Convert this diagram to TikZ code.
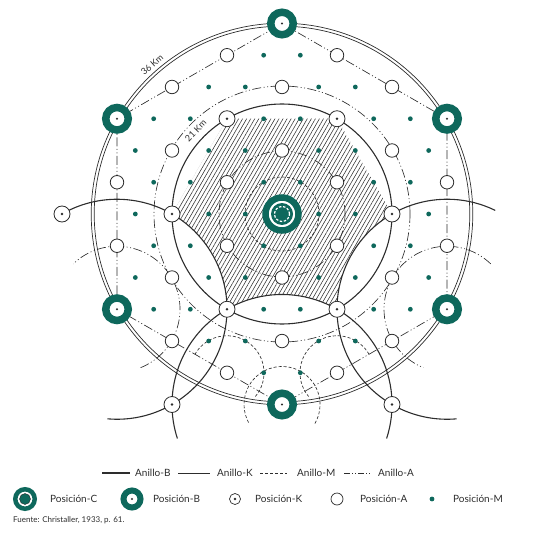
\documentclass[tikz,border=0pt]{standalone}
\usepackage{fontspec}
\setmainfont{Lato}
\usetikzlibrary{patterns.meta}
\definecolor{ink}{RGB}{45,45,45}
\definecolor{pine}{RGB}{14,104,92}

\begin{document}
\begin{tikzpicture}[x=1pt,y=1pt,
 every node/.style={font=\small},
 posM/.style={circle,fill=pine,inner sep=0pt,minimum size=4.8pt},
 posA/.style={circle,draw=ink,fill=white,line width=0.8pt,inner sep=0pt,minimum size=13.5pt},
 posK/.style={circle,draw=ink,fill=white,line width=0.8pt,inner sep=0pt,minimum size=16pt,
   path picture={\fill[ink] (path picture bounding box.center) circle (1.3pt);}},
 posB/.style={circle,draw=pine,fill=white,line width=7.5pt,inner sep=0pt,minimum size=22.5pt,
   path picture={\fill[ink] (path picture bounding box.center) circle (1.2pt);}},
 posC/.style={circle,draw=pine,fill=white,line width=6.5pt,inner sep=0pt,minimum size=33pt,
   path picture={\fill[pine] (path picture bounding box.center) circle (11pt);
     \draw[white,line width=1.2pt,dash pattern=on 2.5pt off 1.6pt] (path picture bounding box.center) circle (7.5pt);}},
 legC/.style={circle,draw=pine,fill=white,line width=4.5pt,inner sep=0pt,minimum size=19.5pt,
   path picture={\filldraw[fill=pine,draw=ink,line width=0.4pt] (path picture bounding box.center) circle (5.5pt);}},
 ringB/.style={ink,line width=1.1pt},
 ringK/.style={ink,line width=0.7pt},
 ringM/.style={ink,line width=0.65pt,dash pattern=on 3pt off 2pt},
 ringA/.style={ink,line width=0.65pt,dash pattern=on 9pt off 2.5pt on 1pt off 2.5pt on 1pt off 2.5pt},
 legtxt/.style={anchor=west,inner sep=2pt,text=ink,font=\fontsize{10}{12}\selectfont},
 kmtxt/.style={text=ink,inner sep=1pt,font=\fontsize{9}{10}\selectfont}]
\useasboundingbox (0,0) rectangle (556,539);

\coordinate (C) at (282,325);
\coordinate (Bt) at (282,515.5);  \coordinate (Bur) at (447,420.25);
\coordinate (Blr) at (447,229.75); \coordinate (Bb) at (282,134.5);
\coordinate (Bll) at (117,229.75); \coordinate (Bul) at (117,420.25);
\coordinate (K0) at (392,325);    \coordinate (K60) at (337,420.25);
\coordinate (K120) at (227,420.25); \coordinate (K180) at (172,325);
\coordinate (K240) at (227,229.75); \coordinate (K300) at (337,229.75);
\coordinate (Kw) at (62,325); \coordinate (Ksw) at (172,134.5); \coordinate (Kse) at (392,134.5);
\coordinate (Asw) at (227,166.25); \coordinate (Ase) at (337,166.25);

\fill[pattern={Lines[angle=60,distance=3.5pt,line width=0.55pt]},pattern color=ink]
 (K0) -- (K60) -- (K120) -- (K180) arc[start angle=60,end angle=0,radius=110]
 arc[start angle=120,end angle=60,radius=110] arc[start angle=180,end angle=120,radius=110] -- cycle;

\draw[ringK] (C) circle (187.8);
\draw[ringK] (C) circle (190.8);
\draw[ringB] (C) circle (110);
\draw[ringB] ([shift={(-95:110)}]Bll) arc[start angle=-95,end angle=120,radius=110];
\draw[ringB] ([shift={(64:110)}]Blr) arc[start angle=64,end angle=275,radius=110];
\draw[ringB] ([shift={(-18:110)}]Bb) arc[start angle=-18,end angle=198,radius=110];

\draw[ringA] (Bt) -- (Bur) -- (Blr) -- (Bb) -- (Bll) -- (Bul) -- cycle;
\draw[ringA] (C) circle (128);
\draw[ringA] (C) circle (63);
\draw[ringA] ([shift={(-68:63)}]Bll) arc[start angle=-68,end angle=134,radius=63];
\draw[ringA] ([shift={(46:63)}]Blr) arc[start angle=46,end angle=248,radius=63];
\draw[ringM] (C) circle (37);
\draw[ringM] ([shift={(-30:38)}]Bb) arc[start angle=-30,end angle=210,radius=38];
\draw[ringM] ([shift={(-40:37)}]Asw) arc[start angle=-40,end angle=150,radius=37];
\draw[ringM] ([shift={(30:37)}]Ase) arc[start angle=30,end angle=220,radius=37];

\node[kmtxt,rotate=41] (km36) at ([shift={(131:198)}]C) {36 Km};
\node[kmtxt,rotate=46] (km21) at ([shift={(136:120)}]C) {21 Km};

\foreach \m in {-5,...,5}{
 \foreach \n in {-5,...,5}{
  \pgfmathtruncatemacro\nrm{(\m)*(\m)+(\m)*(\n)+(\n)*(\n)}
  \pgfmathtruncatemacro\kind{mod((\m)-(\n)+30,3)==0 ? (mod((\m)+30,3)==0 ? 2 : 1) : 0}
  \pgfmathsetmacro\px{282+36.667*(\m)+18.333*(\n)}
  \pgfmathsetmacro\py{325+31.754*(\n)}
  \ifnum\nrm>0 \ifnum\nrm<22
   \ifcase\kind
    \node[posM] (p\m_\n) at (\px,\py) {};
   \or
    \node[posA] (p\m_\n) at (\px,\py) {};
   \or
    \node[posK] (p\m_\n) at (\px,\py) {};
   \fi
  \fi\fi
 }
}
\node[posK] (kw) at (Kw) {};
\node[posK] (ksw) at (Ksw) {};
\node[posK] (kse) at (Kse) {};
\foreach \b in {Bt,Bur,Blr,Bb,Bll,Bul}
 \node[posB] (n\b) at (\b) {};
\node[posC] (nC) at (C) {};

\coordinate (lB1) at (102,66); \coordinate (lB2) at (130,66);
\coordinate (lK1) at (178,66); \coordinate (lK2) at (210,66);
\coordinate (lM1) at (260,66); \coordinate (lM2) at (287,66);
\coordinate (lA1) at (344,66); \coordinate (lA2) at (370,66);
\draw[ringB,line width=1.6pt] (lB1) -- (lB2);
\draw[ringK,line width=0.8pt] (lK1) -- (lK2);
\draw[ringM,line width=0.8pt] (lM1) -- (lM2);
\draw[ink,line width=0.8pt,dash pattern=on 6pt off 2pt on 1pt off 2pt on 1pt off 2pt] (lA1) -- (lA2);
\node[legtxt] (tB) at (133,66) {Anillo-B};
\node[legtxt] (tK) at (215,66) {Anillo-K};
\node[legtxt] (tM) at (295,66) {Anillo-M};
\node[legtxt] (tA) at (376,66) {Anillo-A};

\node[legC] (lC) at (25,40) {};
\node[legtxt] (tpC) at (48,40) {Posición-C};
\node[posB,minimum size=17pt,line width=6pt] (lBn) at (132,40) {};
\node[legtxt] (tpB) at (151,40) {Posición-B};
\node[posK,minimum size=11pt,line width=0.7pt] (lKn) at (235,40) {};
\node[legtxt] (tpK) at (253,40) {Posición-K};
\node[posA,minimum size=12pt,line width=0.7pt] (lAn) at (337,40) {};
\node[legtxt] (tpA) at (358,40) {Posición-A};
\node[posM] (lMn) at (432,40) {};
\node[legtxt] (tpM) at (451,40) {Posición-M};
\node[anchor=west,text=ink,inner sep=0pt,font=\fontsize{8}{9}\selectfont] (src) at (13,19) {Fuente: Christaller, 1933, p. 61.};
\end{tikzpicture}
\end{document}
